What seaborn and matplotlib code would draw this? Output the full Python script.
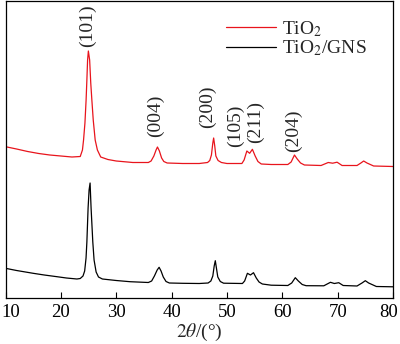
import matplotlib
matplotlib.use("Agg")
import matplotlib.pyplot as plt
import matplotlib.transforms as mtransforms
import seaborn as sns
import pandas as pd

# ---- data (2theta in degrees, intensity in a.u.) ----
tio2_theta = [10, 12, 14, 16, 18, 20, 22, 23.5, 23.9, 24.1, 24.35, 24.56, 24.7, 24.83,
              24.97, 25.2, 25.4, 25.6, 25.85, 26.2, 26.6, 27.2, 28.5, 30, 33, 35.8, 36.3,
              36.8, 37.2, 37.45, 37.8, 38.2, 38.6, 39.2, 42, 45, 46.5, 46.9, 47.2, 47.45,
              47.6, 47.8, 48.0, 48.4, 49.0, 50, 52.7, 53.1, 53.6, 54.1, 54.6, 55.1, 55.6,
              56.2, 58, 61.0, 61.6, 62.2, 62.7, 63.3, 64.0, 67, 68.3, 69.1, 69.9, 70.8,
              73.5, 74.2, 74.7, 75.3, 76.5, 80]
tio2_int = [151.3, 149, 146.5, 144.5, 143, 142, 141, 141.5, 148, 158, 175, 198, 218, 238,
            247, 238, 215, 198, 178, 158, 148, 141, 138.5, 137, 135.5, 135.5, 137,
            142, 148, 151, 147, 140, 136.5, 135, 134.5, 134.5, 135.5, 137.5, 143, 155,
            160, 152, 142, 137.5, 135.5, 134.5, 134.5, 138, 147, 144.7, 148.7, 142, 136.5,
            134, 133.5, 133.5, 136, 143, 139, 135, 133, 132.5, 135.5, 134.8, 135.8, 132.5,
            132.5, 135, 137, 135, 132, 131.5]

gns_theta = [10, 12, 15, 17, 19.3, 21, 22.9, 23.5, 24.0, 24.3, 24.55, 24.7, 24.92, 25.1,
             25.28, 25.46, 25.77, 26.0, 26.37, 26.8, 27.5, 30, 32.5, 35.8, 36.4, 36.9,
             37.4, 37.75, 38.1, 38.5, 39.0, 39.6, 42, 45, 46.6, 47.1, 47.45, 47.7, 47.9,
             48.1, 48.35, 48.8, 49.4, 52.8, 53.2, 53.7, 54.25, 54.8, 55.3, 55.8, 56.4, 58,
             61.0, 61.7, 62.35, 62.9, 63.6, 64.3, 67.5, 68.7, 69.4, 70.2, 71.0, 73.5, 74.4,
             75.0, 75.6, 77, 80]
gns_int = [29.7, 27.5, 24.7, 23, 21.3, 20, 19, 19.5, 22, 27, 40, 56, 90, 108,
           115, 90, 56, 38, 26, 21, 19, 17.5, 16.3, 15.5, 17, 22,
           28, 30.7, 27, 21, 16.5, 15, 14.7, 14.5, 15, 17, 22, 32, 37.3,
           30, 21, 16.5, 14.8, 14.5, 17, 24.7, 23, 25.3, 20, 16, 14, 12.8,
           12.5, 15, 20.3, 17, 13.5, 12.3, 12.2, 15.7, 14.5, 15.3, 12.5, 12, 15,
           17.3, 15, 11.5, 11.2]

series_names = ["TiO$_2$", "TiO$_2$/GNS"]
series_colors = ["#e8141c", "#000000"]

peak_labels = ["(101)", "(004)", "(200)", "(105)", "(211)", "(204)"]
peak_label_x = [24.83, 37.03, 46.5, 51.5, 55.1, 62.0]
peak_label_y = [251, 161, 170, 151, 155, 146]

x_ticks = [10, 20, 30, 40, 50, 60, 70, 80]

# ---- build table ----
df = pd.concat([
    pd.DataFrame({"theta": tio2_theta, "intensity": tio2_int, "sample": series_names[0]}),
    pd.DataFrame({"theta": gns_theta, "intensity": gns_int, "sample": series_names[1]}),
], ignore_index=True)

sns.set_theme(style="ticks")
plt.rcParams["font.family"] = ["Liberation Serif", "DejaVu Serif"]
plt.rcParams["mathtext.fontset"] = "stix"

fig = plt.figure(figsize=(4.0, 3.44), dpi=100)
ax = fig.add_axes([5.5 / 400, 1 - 298 / 344, 387.5 / 400, 297 / 344])

sns.lineplot(data=df, x="theta", y="intensity", hue="sample",
             palette=dict(zip(series_names, series_colors)),
             estimator=None, sort=False, linewidth=0.9, ax=ax)

ax.set_xlim(10, 80)
ax.set_ylim(0, 297)
ax.set_xticks(x_ticks)
ax.set_yticks([])
ax.tick_params(axis="x", direction="in", length=4, width=0.8, labelsize=13.5, pad=4,
               top=False, colors="black")
for s in ax.spines.values():
    s.set_visible(True)
    s.set_color("black")
    s.set_linewidth(0.9)

# keep the edge tick labels inside the canvas
tlabels = ax.get_xticklabels()
tlabels[0].set_horizontalalignment("left")
tlabels[0].set_transform(tlabels[0].get_transform() +
                         mtransforms.ScaledTranslation(-4.5 / 100, 0, fig.dpi_scale_trans))
tlabels[-1].set_horizontalalignment("right")
tlabels[-1].set_transform(tlabels[-1].get_transform() +
                          mtransforms.ScaledTranslation(5.5 / 100, 0, fig.dpi_scale_trans))

ax.set_ylabel("")
ax.set_xlabel(r"$\mathit{2\theta}$/(°)", fontsize=14, labelpad=1)

for lab, lx, ly in zip(peak_labels, peak_label_x, peak_label_y):
    ax.text(lx, ly, lab, rotation=90, ha="center", va="bottom", fontsize=14)

leg = ax.legend(loc="upper right", frameon=False, fontsize=14, handlelength=2.55,
                handletextpad=0.35, labelspacing=0.0, borderaxespad=0.3,
                bbox_to_anchor=(0.968, 0.985))
for h in leg.get_lines():
    h.set_linewidth(0.9)

fig.savefig("out.png", dpi=100)
